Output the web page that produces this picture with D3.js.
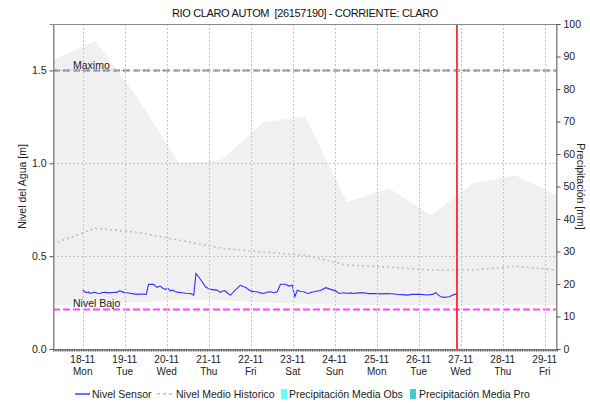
<!DOCTYPE html>
<html>
<head>
<meta charset="utf-8">
<script src="https://cdn.jsdelivr.net/npm/d3@7/dist/d3.min.js"></script>
<style>
  html, body { margin: 0; padding: 0; background: #fff; }
  svg { display: block; font-family: "Liberation Sans", Arial, sans-serif; }
</style>
</head>
<body>
<svg id="chart" width="590" height="404"></svg>
<script>
// ---- Data ----
const title = "RIO CLARO AUTOM  [26157190] - CORRIENTE: CLARO";

// Day labels on the time axis (2019)
const dayDates = ["2019-11-18","2019-11-19","2019-11-20","2019-11-21","2019-11-22","2019-11-23",
                  "2019-11-24","2019-11-25","2019-11-26","2019-11-27","2019-11-28","2019-11-29"];
const dayNames = ["Mon","Tue","Wed","Thu","Fri","Sat","Sun","Mon","Tue","Wed","Thu","Fri"];

// Historic statistics, one value per day at 07:00
const histDates = ["2019-11-17T07:00","2019-11-18T07:00","2019-11-19T07:00","2019-11-20T07:00",
                   "2019-11-21T07:00","2019-11-22T07:00","2019-11-23T07:00","2019-11-24T07:00",
                   "2019-11-25T07:00","2019-11-26T07:00","2019-11-27T07:00","2019-11-28T07:00",
                   "2019-11-29T07:00"];
const histMax  = [1.555, 1.66, 1.355, 1.0, 1.016, 1.22, 1.253, 0.79, 0.866, 0.72, 0.892, 0.935, 0.828];
const histMin  = [0.236, 0.242, 0.25, 0.265, 0.262, 0.25, 0.243, 0.237, 0.237, 0.235, 0.237, 0.24, 0.237];
const histMean = [0.565, 0.65, 0.629, 0.586, 0.543, 0.522, 0.505, 0.452, 0.441, 0.425, 0.425, 0.446, 0.425];

// Sensor level: hours after 18-11 00:00 and level [m]
const sensorHours = [0, 1.2, 2.3, 3.2, 4.2, 5.5, 7.0, 8.4, 9.9, 11.2, 12.8, 15, 17.5, 19.5, 20.5, 21.4, 23.3, 25.2,
  27, 29, 30.9, 33, 36.3, 37.6, 40.4, 41.3, 42.4, 44.3, 45.6, 47.1, 48.6, 50.0, 51.4, 52.9, 54.8, 56.7, 59,
  61.6, 63.4, 64.7, 66.2, 68.2, 70.1, 71.5, 73.0, 76.8, 78.6, 80, 81.5, 83, 84.4, 87.2, 90.1, 91.5, 93.0,
  95.8, 97.8, 99.7, 101.5, 103.4, 105.3, 107.3, 109.2, 111.1, 113.0, 115.9, 117.8, 119.7, 121.2, 122.6,
  124.5, 126.4, 127.8, 129.2, 130.6, 132.1, 134, 135.9, 138.8, 141.7, 144.5, 146.4, 149.3, 151.2, 153,
  155.0, 157.5, 160.7, 163.5, 166.5, 170, 174.1, 177.9, 181, 183, 185.6, 188, 190.5, 193.2, 196.5, 199.9,
  201.8, 203.2, 204.7, 206.6, 209.4, 212.3, 214.2];
const sensorLevel = [0.317, 0.308, 0.303, 0.307, 0.299, 0.303, 0.305, 0.300, 0.299, 0.304, 0.305, 0.302, 0.304, 0.305, 0.311, 0.313, 0.305, 0.303,
  0.300, 0.297, 0.294, 0.296, 0.294, 0.348, 0.348, 0.341, 0.332, 0.339, 0.328, 0.321, 0.326, 0.313, 0.317, 0.308, 0.305, 0.303, 0.300,
  0.299, 0.290, 0.407, 0.389, 0.362, 0.335, 0.327, 0.321, 0.317, 0.305, 0.312, 0.313, 0.299, 0.290, 0.317, 0.344, 0.337, 0.332,
  0.313, 0.309, 0.308, 0.302, 0.299, 0.306, 0.308, 0.303, 0.308, 0.349, 0.349, 0.339, 0.344, 0.281, 0.317,
  0.310, 0.308, 0.302, 0.299, 0.306, 0.308, 0.312, 0.315, 0.330, 0.321, 0.313, 0.299, 0.303, 0.299, 0.302,
  0.299, 0.302, 0.303, 0.298, 0.299, 0.297, 0.299, 0.296, 0.292, 0.293, 0.290, 0.294, 0.295, 0.294, 0.291, 0.294,
  0.303, 0.290, 0.281, 0.278, 0.281, 0.294, 0.296];

// Precipitation (daily, mm) - no rainfall recorded in this period
const precipObs = [0, 0, 0, 0, 0, 0, 0, 0, 0];
const precipPro = [0, 0, 0];

// Reference levels [m] and current time
const nivelMaximo = 1.5;
const nivelBajo = 0.213;
const nowTime = "2019-11-26T21:50";

// ---- Layout ----
const parse = s => new Date(s + (s.length > 10 ? ":00Z" : "T00:00:00Z"));
const base = Date.UTC(2019, 10, 18, 0);
const plot = { left: 53, right: 557, top: 24, bottom: 349 };

const svg = d3.select("#chart");

const x = d3.scaleUtc()
  .domain([Date.UTC(2019, 10, 17, 7), Date.UTC(2019, 10, 29, 7)])
  .range([plot.left, plot.right]);
const yL = d3.scaleLinear().domain([0, 1.75]).range([plot.bottom, plot.top]);
const yR = d3.scaleLinear().domain([0, 100]).range([plot.bottom, plot.top]);

svg.append("defs").append("clipPath").attr("id", "plotclip")
  .append("rect").attr("x", plot.left).attr("y", plot.top)
  .attr("width", plot.right - plot.left).attr("height", plot.bottom - plot.top);

const g = svg.append("g").attr("clip-path", "url(#plotclip)");

// Historic range band
const hist = histDates.map((d, i) => ({ t: parse(d), max: histMax[i], min: histMin[i], mean: histMean[i] }));
g.append("path").datum(hist)
  .attr("fill", "#f0f0f0")
  .attr("d", d3.area().x(d => x(d.t)).y0(d => yL(d.min)).y1(d => yL(d.max)));

// Grid lines
const grid = svg.append("g");
dayDates.forEach(d => {
  const px = Math.round(x(parse(d))) + 0.5;
  grid.append("line").attr("x1", px).attr("x2", px).attr("y1", plot.top).attr("y2", plot.bottom)
    .attr("stroke", "#c4c4c4").attr("stroke-width", 1).attr("stroke-dasharray", "2,2");
});
[0.5, 1.0, 1.5].forEach(v => {
  const py = Math.round(yL(v)) + 0.5;
  grid.append("line").attr("x1", plot.left).attr("x2", plot.right).attr("y1", py).attr("y2", py)
    .attr("stroke", "#c4c4c4").attr("stroke-width", 1).attr("stroke-dasharray", "2,2");
});

// Precipitation bars (right axis)
const barW = 8;
g.selectAll("rect.pobs").data(precipObs).join("rect").attr("class", "pobs")
  .attr("x", (d, i) => x(parse(histDates[i])) - barW / 2).attr("width", barW)
  .attr("y", d => yR(d)).attr("height", d => yR(0) - yR(d)).attr("fill", "#66ffff");
g.selectAll("rect.ppro").data(precipPro).join("rect").attr("class", "ppro")
  .attr("x", (d, i) => x(parse(histDates[i + 9])) - barW / 2).attr("width", barW)
  .attr("y", d => yR(d)).attr("height", d => yR(0) - yR(d)).attr("fill", "#44cccc");

// Historic mean level
g.append("path").datum(hist)
  .attr("fill", "none").attr("stroke", "#bdbdbd").attr("stroke-width", 1.6)
  .attr("stroke-dasharray", "2,3")
  .attr("d", d3.line().x(d => x(d.t)).y(d => yL(d.mean)));

// Reference lines
g.append("line").attr("x1", plot.left).attr("x2", plot.right)
  .attr("y1", yL(nivelMaximo)).attr("y2", yL(nivelMaximo))
  .attr("stroke", "#6a7bb2").attr("stroke-width", 2).attr("stroke-dasharray", "7,3");
g.append("line").attr("x1", plot.left).attr("x2", plot.right)
  .attr("y1", yL(nivelBajo)).attr("y2", yL(nivelBajo))
  .attr("stroke", "#ff44ff").attr("stroke-width", 2).attr("stroke-dasharray", "7,3");

svg.append("text").attr("x", 73).attr("y", yL(nivelMaximo) - 1.5)
  .attr("font-size", 10.5).attr("fill", "#222").text("Maximo");
svg.append("text").attr("x", 73).attr("y", yL(nivelBajo) - 2.5)
  .attr("font-size", 10.5).attr("fill", "#222").text("Nivel Bajo");

// Sensor level
const sensor = sensorHours.map((h, i) => ({ t: new Date(base + h * 3600e3), v: sensorLevel[i] }));
g.append("path").datum(sensor)
  .attr("fill", "none").attr("stroke", "#3030ff").attr("stroke-width", 1.1)
  .attr("d", d3.line().x(d => x(d.t)).y(d => yL(d.v)));

// Current time marker
const nx = x(parse(nowTime));
g.append("line").attr("x1", nx).attr("x2", nx).attr("y1", plot.top).attr("y2", plot.bottom)
  .attr("stroke", "#ff1010").attr("stroke-width", 1.6);

// Frame
svg.append("rect").attr("x", plot.left + 0.5).attr("y", plot.top + 0.5)
  .attr("width", plot.right - plot.left - 1).attr("height", plot.bottom - plot.top)
  .attr("fill", "none").attr("stroke", "#8a8a8a").attr("stroke-width", 1);

// Left axis
const axL = svg.append("g").attr("transform", `translate(${plot.left + 0.5},0)`)
  .call(d3.axisLeft(yL).tickValues([0, 0.5, 1.0, 1.5]).tickFormat(d3.format(".1f")).tickSize(4).tickPadding(3));
// Right axis
const axR = svg.append("g").attr("transform", `translate(${plot.right - 0.5},0)`)
  .call(d3.axisRight(yR).tickValues(d3.range(0, 101, 10)).tickFormat(d3.format("d")).tickSize(4).tickPadding(3));
// Bottom axis: hourly minor ticks
const axB = svg.append("g").attr("transform", `translate(0,${plot.bottom + 0.5})`)
  .call(d3.axisBottom(x).ticks(d3.utcHour.every(1)).tickFormat("").tickSize(2).tickSizeOuter(0));

[axL, axR, axB].forEach(a => {
  a.select(".domain").attr("stroke", "#8a8a8a");
  a.selectAll(".tick line").attr("stroke", "#555");
  a.selectAll("text").attr("font-size", 10.5).attr("fill", "#222")
    .attr("font-family", "Liberation Sans, Arial, sans-serif");
});

// Day labels
const dayG = svg.append("g").attr("font-size", 10).attr("fill", "#222").attr("text-anchor", "middle");
dayDates.forEach((d, i) => {
  const px = x(parse(d));
  dayG.append("text").attr("x", px).attr("y", 363).text(d3.utcFormat("%d-%m")(parse(d)));
  dayG.append("text").attr("x", px).attr("y", 374.5).text(dayNames[i]);
});

// Title
svg.append("text").attr("x", (plot.left + plot.right) / 2).attr("y", 16.5)
  .attr("text-anchor", "middle").attr("font-size", 11).attr("letter-spacing", -0.35)
  .style("white-space", "pre").attr("fill", "#111").text(title);

// Axis titles
svg.append("text").attr("transform", `translate(26,${(plot.top + plot.bottom) / 2}) rotate(-90)`)
  .attr("text-anchor", "middle").attr("font-size", 10.5).attr("fill", "#222").text("Nivel del Agua [m]");
svg.append("text").attr("transform", `translate(577,${(plot.top + plot.bottom) / 2}) rotate(90)`)
  .attr("text-anchor", "middle").attr("font-size", 10.5).attr("fill", "#222").text("Precipitación [mm]");

// Legend
const lg = svg.append("g").attr("font-size", 10.5).attr("fill", "#222");
const ly = 394;
lg.append("line").attr("x1", 75).attr("x2", 90).attr("y1", ly).attr("y2", ly)
  .attr("stroke", "#1010ff").attr("stroke-width", 1.2);
lg.append("text").attr("x", 92).attr("y", ly + 4).text("Nivel Sensor");
lg.append("line").attr("x1", 157).attr("x2", 174).attr("y1", ly).attr("y2", ly)
  .attr("stroke", "#bdbdbd").attr("stroke-width", 1.5).attr("stroke-dasharray", "3,3");
lg.append("text").attr("x", 176).attr("y", ly + 4).text("Nivel Medio Historico");
lg.append("rect").attr("x", 281).attr("y", ly - 5).attr("width", 6).attr("height", 10).attr("fill", "#66ffff");
lg.append("text").attr("x", 289).attr("y", ly + 4).text("Precipitación Media Obs");
lg.append("rect").attr("x", 410).attr("y", ly - 5).attr("width", 6).attr("height", 10).attr("fill", "#44cccc");
lg.append("text").attr("x", 419).attr("y", ly + 4).text("Precipitación Media Pro");
</script>
</body>
</html>
